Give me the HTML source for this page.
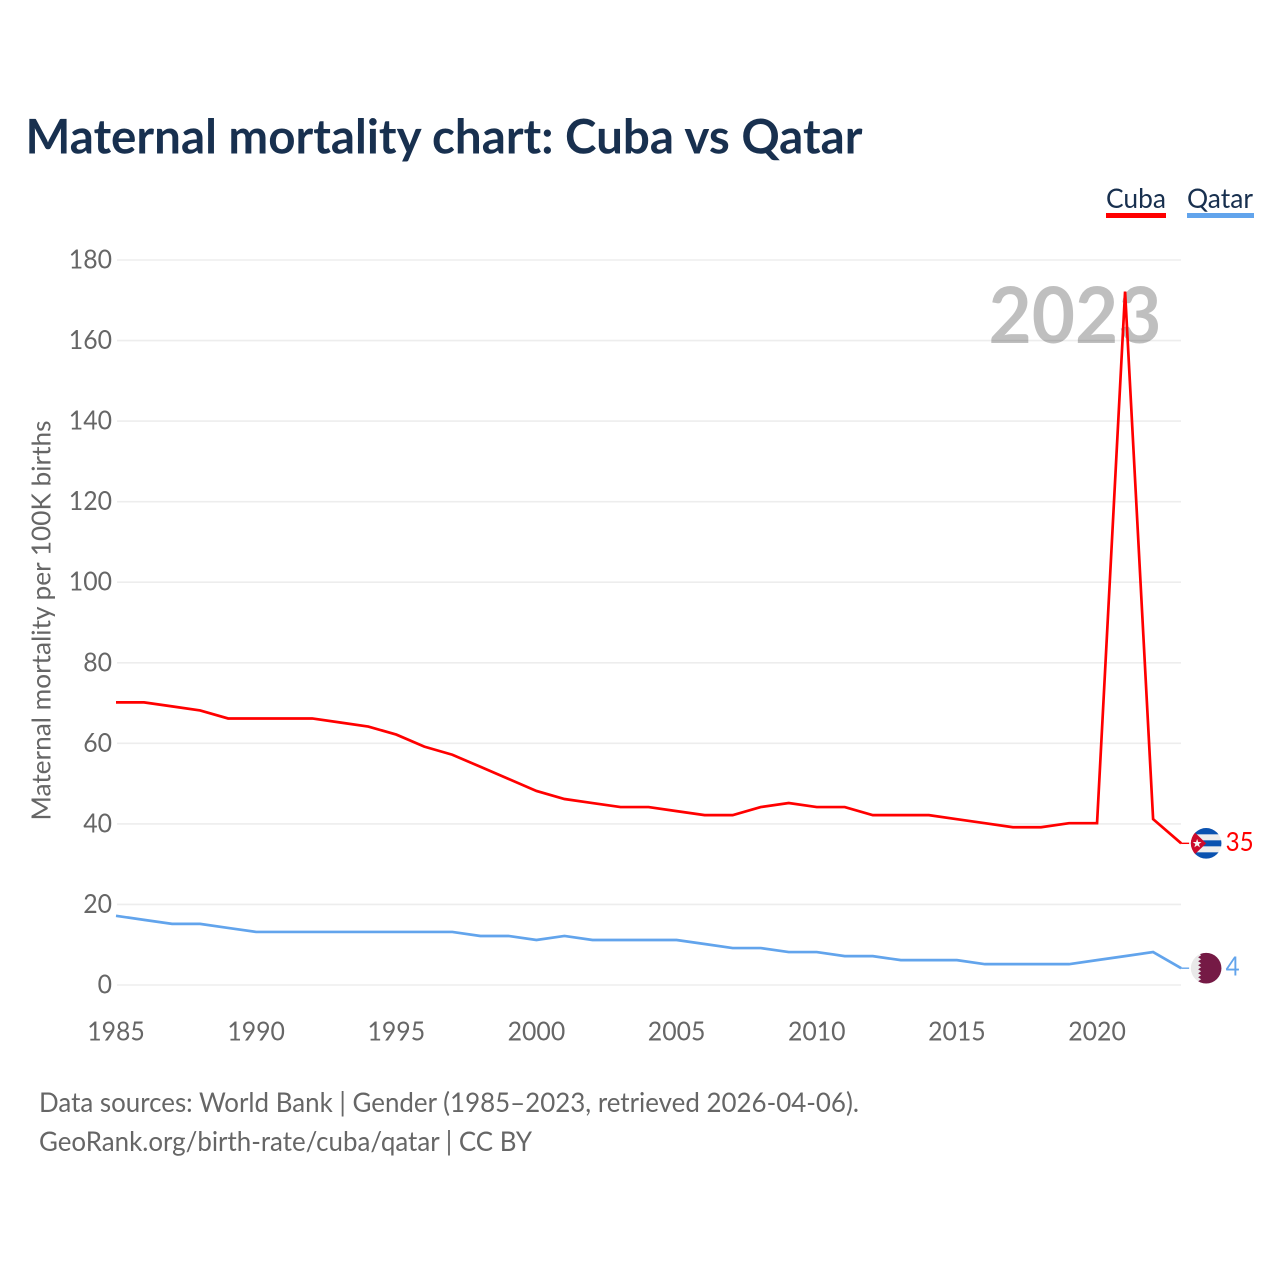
<!DOCTYPE html>
<html lang="en">
<head>
<meta charset="utf-8">
<title>Maternal mortality chart: Cuba vs Qatar</title>
<style>
html,body{margin:0;padding:0;background:#fff;width:1280px;height:1280px;overflow:hidden}
svg{display:block}
text{font-family:"Lato","Carlito","Liberation Sans",sans-serif}
</style>
</head>
<body>
<svg id="chart" xmlns="http://www.w3.org/2000/svg" width="1280" height="1280" viewBox="0 0 1280 1280">
  <defs>
    <clipPath id="clip-cuba"><circle cx="0" cy="0" r="15.3"/></clipPath>
    <clipPath id="clip-qatar"><circle cx="0" cy="0" r="15.3"/></clipPath>
  </defs>
  <text x="25.5" y="153.5" font-size="48" font-weight="700" fill="#18304f" textLength="837" lengthAdjust="spacingAndGlyphs">Maternal mortality chart: Cuba vs Qatar</text>

  <g id="grid"></g>
  <text x="1161.5" y="343" text-anchor="end" font-size="78" font-weight="700" fill="#000" fill-opacity="0.25" textLength="173" lengthAdjust="spacingAndGlyphs">2023</text>
  <g id="y-ticks"></g>
  <g id="x-ticks"></g>
  <text transform="translate(50.5 620.5) rotate(-90)" text-anchor="middle" font-size="26" fill="#666" textLength="400" lengthAdjust="spacingAndGlyphs">Maternal mortality per 100K births</text>

  <g id="series"></g>

  <g>
    <g>
      <text x="1106" y="208" font-size="27" fill="#18304f" textLength="60" lengthAdjust="spacingAndGlyphs">Cuba</text>
      <rect x="1106" y="213" width="60" height="5" fill="#ff0000"/>
    </g>
    <g>
      <text x="1187" y="208" font-size="27" fill="#18304f" textLength="66" lengthAdjust="spacingAndGlyphs">Qatar</text>
      <rect x="1187" y="213" width="67" height="5" fill="#62a4ec"/>
    </g>
  </g>

  <g>
    <text x="39" y="1112" font-size="27" fill="#666" textLength="820" lengthAdjust="spacingAndGlyphs">Data sources: World Bank | Gender (1985–2023, retrieved 2026-04-06).</text>
    <text x="39" y="1151" font-size="27" fill="#666" textLength="493" lengthAdjust="spacingAndGlyphs">GeoRank.org/birth-rate/cuba/qatar | CC BY</text>
  </g>
</svg>
<script>
const years = [1985,1986,1987,1988,1989,1990,1991,1992,1993,1994,1995,1996,1997,1998,1999,2000,2001,2002,2003,2004,2005,2006,2007,2008,2009,2010,2011,2012,2013,2014,2015,2016,2017,2018,2019,2020,2021,2022,2023];
const cubaValues = [70,70,69,68,66,66,66,66,65,64,62,59,57,54,51,48,46,45,44,44,43,42,42,44,45,44,44,42,42,42,41,40,39,39,40,40,172,41,35];
const qatarValues = [17,16,15,15,14,13,13,13,13,13,13,13,13,12,12,11,12,11,11,11,11,10,9,9,8,8,7,7,6,6,6,5,5,5,5,6,7,8,4];
const yTickLabels = [0,20,40,60,80,100,120,140,160,180];
const xTickLabels = [1985,1990,1995,2000,2005,2010,2015,2020];

const NS = 'http://www.w3.org/2000/svg';
const DIGIT_WIDTH = 14.4;
const xScale = function (year) { return 116 + (year - 1985) * 28.03; };
const yScale = function (value) { return 985 - value * (725 / 180); };
const lineY = function (value) { return yScale(value) - 0.7; };
function make(tag, attrs, parent, text) {
  const el = document.createElementNS(NS, tag);
  for (const k in attrs) el.setAttribute(k, attrs[k]);
  if (text !== undefined) el.textContent = text;
  parent.appendChild(el);
  return el;
}
const gridG = document.getElementById('grid');
const yG = document.getElementById('y-ticks');
const xG = document.getElementById('x-ticks');
const seriesG = document.getElementById('series');

yTickLabels.forEach(function (t) {
  const line = make('line', {x1: 117, x2: 1181, y1: yScale(t), y2: yScale(t), stroke: '#ededed', 'stroke-width': 1.6}, gridG);
  
  
  const label = make('text', {x: 112, y: yScale(t) + 8.5, 'text-anchor': 'end', 'font-size': 26, fill: '#666', textLength: String(t).length * DIGIT_WIDTH, lengthAdjust: 'spacingAndGlyphs'}, yG, String(t));
  
  
});
xTickLabels.forEach(function (t) {
  const label = make('text', {x: xScale(t), y: 1040.5, 'text-anchor': 'middle', 'font-size': 26, fill: '#666', textLength: String(t).length * DIGIT_WIDTH, lengthAdjust: 'spacingAndGlyphs'}, xG, String(t));
  
  
});
function linePoints(values) {
  return values.map(function (v, i) { return xScale(years[i]).toFixed(2) + ',' + lineY(v).toFixed(2); }).join(' ');
}
const cubaLine = make('polyline', {points: linePoints(cubaValues), fill: 'none', stroke: '#ff0000', 'stroke-width': 2.7, 'stroke-linejoin': 'miter'}, seriesG);


const qatarLine = make('polyline', {points: linePoints(qatarValues), fill: 'none', stroke: '#62a4ec', 'stroke-width': 2.7, 'stroke-linejoin': 'miter'}, seriesG);



function endMarker(values, color, name, clipId, flagDraw, labelDx) {
  const lastVal = values[values.length - 1];
  const endX = xScale(years[years.length - 1]);
  const endY = lineY(lastVal);
  const conn = make('line', {x1: endX, x2: endX + 8, y1: endY, y2: endY, stroke: color, 'stroke-width': 1.4}, seriesG);
  
  
  const flag = make('g', {transform: 'translate(' + (endX + 25) + ' ' + endY + ')'}, seriesG);
  
  
  const inner = make('g', {'clip-path': 'url(#' + clipId + ')'}, flag);
  flagDraw(inner);
  const label = make('text', {x: endX + labelDx, y: endY + 7.5, 'font-size': 26, fill: color, textLength: String(lastVal).length * 14, lengthAdjust: 'spacingAndGlyphs'}, seriesG, String(lastVal));
  
  
}
endMarker(cubaValues, '#ff0000', 'cuba', 'clip-cuba', function (g) {
  make('rect', {x: -16, y: -16, width: 32, height: 32, fill: '#eeeeee'}, g);
  make('rect', {x: -16, y: -16, width: 32, height: 7, fill: '#0a52b0'}, g);
  make('rect', {x: -16, y: -3, width: 32, height: 6, fill: '#0a52b0'}, g);
  make('rect', {x: -16, y: 9, width: 32, height: 7, fill: '#0a52b0'}, g);
  make('polygon', {points: '-15.5,-15 -15.5,15 0,0', fill: '#cc0a2c'}, g);
  make('polygon', {points: '-9,-4.5 -7.9,-1.3 -4.6,-1.3 -7.2,0.7 -6.2,4 -9,2 -11.8,4 -10.8,0.7 -13.4,-1.3 -10.1,-1.3', fill: '#f5f5f5'}, g);
}, 44.5);
endMarker(qatarValues, '#62a4ec', 'qatar', 'clip-qatar', function (g) {
  make('rect', {x: -16, y: -16, width: 32, height: 32, fill: '#e9e9e9'}, g);
  make('polygon', {points: '16,-16 -8,-16 -5,-13 -8,-11 -5,-9 -8,-7 -5,-5 -8,-3 -5,-1 -8,1 -5,3 -8,5 -5,7 -8,9 -5,11 -8,13 -5,16 16,16', fill: '#751a45'}, g);
}, 44.5);
</script>
</body>
</html>
